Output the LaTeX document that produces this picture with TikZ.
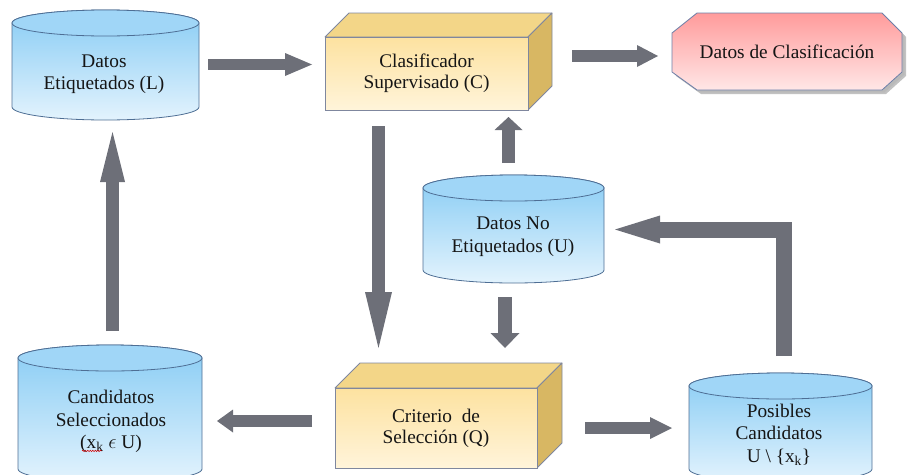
\documentclass[tikz,border=0pt]{standalone}
\usepackage{fontspec}
\setmainfont{Liberation Serif}
\usetikzlibrary{calc,backgrounds,arrows.meta,decorations.pathmorphing}

\definecolor{ink}{HTML}{151515}
\definecolor{cylline}{HTML}{4E6E94}
\definecolor{cyltop}{HTML}{88CCF4}
\definecolor{cylbot}{HTML}{E3F3FD}
\definecolor{cylcapfill}{HTML}{A0D6F7}
\definecolor{boxline}{HTML}{7F879E}
\definecolor{boxtop}{HTML}{FDE2A0}
\definecolor{boxbot}{HTML}{FFF4DA}
\definecolor{boxlid}{HTML}{F3D688}
\definecolor{boxright}{HTML}{D8B763}
\definecolor{octline}{HTML}{6C7FA8}
\definecolor{octtop}{HTML}{FF9B9B}
\definecolor{octbot}{HTML}{FFE7E7}
\definecolor{arrowgray}{HTML}{6D6F78}

\tikzset{
  geo/.style={inner sep=0pt, outer sep=0pt},
  txt/.style={align=center, font=\fontsize{19.3}{22.5}\selectfont, text=ink, inner sep=0pt},
  cylbody/.style={draw=cylline, line width=0.8pt, top color=cyltop, bottom color=cylbot},
  cylcap/.style={draw=cylline, line width=0.8pt, fill=cylcapfill},
  boxface/.style={draw=boxline, line width=0.8pt, top color=boxtop, bottom color=boxbot,
    inner sep=0pt, outer sep=0pt, align=center, font=\fontsize{19.3}{21}\selectfont, text=ink},
  boxlidface/.style={draw=boxline, line width=0.8pt, fill=boxlid, line join=round},
  boxsideface/.style={draw=boxline, line width=0.8pt, fill=boxright, line join=round},
  blk/.style n args={3}{draw=arrowgray, line width=#1, line cap=butt, line join=miter,
    -{Triangle[length=#2, width=#3, line width=0pt]}},
}

% cylinder drawn inside the box of a named node, cap half-height 13pt
\newcommand\drawcyl[1]{%
  \path let \p1=(#1.north west), \p2=(#1.south east), \n1={(\x2-\x1)/2} in
    [cylbody] (\x1,\y1-13pt) -- (\x1,\y2+13pt)
      arc[start angle=180, end angle=360, x radius=\n1, y radius=13pt]
      -- (\x2,\y1-13pt)
      arc[start angle=0, end angle=180, x radius=\n1, y radius=13pt] -- cycle;
  \path let \p1=(#1.north west), \p2=(#1.south east), \n1={(\x2-\x1)/2} in
    [cylcap] ({\x1+\n1},{\y1-13pt}) ellipse[x radius=\n1, y radius=13pt];
}

% lid and right side of a box whose front face is a named node
\newcommand\drawlid[2]{%
  \path[boxlidface] (#1.north west) -- ($(#1.north west)+(#2,-#2)$)
    -- ($(#1.north east)+(#2,-#2)$) -- (#1.north east) -- cycle;
  \path[boxsideface] (#1.north east) -- ($(#1.north east)+(#2,-#2)$)
    -- ($(#1.south east)+(#2,-#2)$) -- (#1.south east) -- cycle;
}

% octagonal outline around node DC, shifted by (#1,#2)
\newcommand\octpath[2]{%
  ($(DC.north west)+(25+#1,#2)$) -- ($(DC.north east)+(-20+#1,#2)$)
  -- ($(DC.north east)+(#1,20+#2)$) -- ($(DC.south east)+(#1,-18+#2)$)
  -- ($(DC.south east)+(-20+#1,#2)$) -- ($(DC.south west)+(25+#1,#2)$)
  -- ($(DC.south west)+(#1,-18+#2)$) -- ($(DC.north west)+(#1,20+#2)$) -- cycle
}

\begin{document}
\begin{tikzpicture}[x=1pt, y=-1pt]
\useasboundingbox (0,0) rectangle (912,474);

% cylinder outlines (geometry only)
\node[geo, minimum width=187pt, minimum height=110pt] (L) at (105.5,65) {};
\node[geo, minimum width=181pt, minimum height=108pt] (U) at (513.5,229) {};
\node[geo, minimum width=184pt, minimum height=137pt] (Cand) at (110,413.5) {};
\node[geo, minimum width=183pt, minimum height=109pt] (Pos) at (780.5,427.5) {};

% boxes
\node[boxface, minimum width=203pt, minimum height=73pt] (C) at (426.5,73.5)
  {Clasificador\\Supervisado (C)};
\node[boxface, minimum width=202pt, minimum height=80pt] (Q) at (436,428)
  {Criterio\ \ de\\Selección (Q)};

% output node
\node[geo, minimum width=230pt, minimum height=77pt] (DC) at (787,51.5) {};

\begin{scope}[on background layer]
  \drawcyl{L}
  \drawcyl{U}
  \drawcyl{Cand}
  \drawcyl{Pos}
  \drawlid{C}{24}
  \drawlid{Q}{25}
  \fill[black!40, opacity=0.6] \octpath{4}{4};
  \fill[black!30, opacity=0.5] \octpath{2.5}{2.5};
  \path[draw=octline, line width=0.8pt, top color=octtop, bottom color=octbot] \octpath{0}{0};
\end{scope}

% labels
\node[txt] (Lt) at (104,74) {Datos\\Etiquetados (L)};
\node[txt] (Ut) at (513,236.5) {Datos No\\Etiquetados (U)};
\node[txt] (Candt) at (111,421.5) {Candidatos\\Seleccionados\\(x\textsubscript{k} $\epsilon$ U)};
\node[txt] (Post) at (779,434.5) {Posibles\\Candidatos\\U \textbackslash\ \{x\textsubscript{k}\}};
\node[txt] (DCt) at (787,52) {Datos de Clasificación};
\draw[red!85!black, line width=0.5pt, decorate,
  decoration={snake, amplitude=0.7pt, segment length=2.5pt}]
  ($(Candt.south)+(-29,-2)$) -- ($(Candt.south)+(-9,-2)$);

% flow arrows
\draw[blk={11pt}{27pt}{23pt}] ($(L.east)+(9,-0.5)$) -- ($(C.west)+(-13,-9)$);
\draw[blk={12pt}{21pt}{22pt}] ($(C.east)+(44,-17.5)$) -- ($(DC.west)+(-14,4.5)$);
\draw[blk={13pt}{56pt}{27pt}] ($(C.south)+(-48,16)$) -- ($(Q.north)+(-57.5,-40)$);
\draw[blk={13pt}{13pt}{28pt}] ($(U.north)+(-5,-12)$) -- ($(C.south)+(82,7)$);
\draw[blk={14pt}{15pt}{29pt}] ($(U.south)+(-8.5,14)$) -- ($(Q.north)+(69,-40)$);
\draw[blk={12pt}{16pt}{23pt}] ($(Q.west)+(-23,-7)$) -- ($(Cand.east)+(15,7.5)$);
\draw[blk={12pt}{22pt}{22pt}] ($(Q.east)+(48,0)$) -- ($(Pos.west)+(-17,0.5)$);
\draw[blk={16pt}{45pt}{28pt}] ($(Pos.north)+(3.5,-17)$) |- ($(U.east)+(11,0.5)$);
\draw[blk={13pt}{50pt}{25pt}] ($(Cand.north)+(2.5,-14)$) -- ($(L.south)+(7,12)$);
\end{tikzpicture}
\end{document}
